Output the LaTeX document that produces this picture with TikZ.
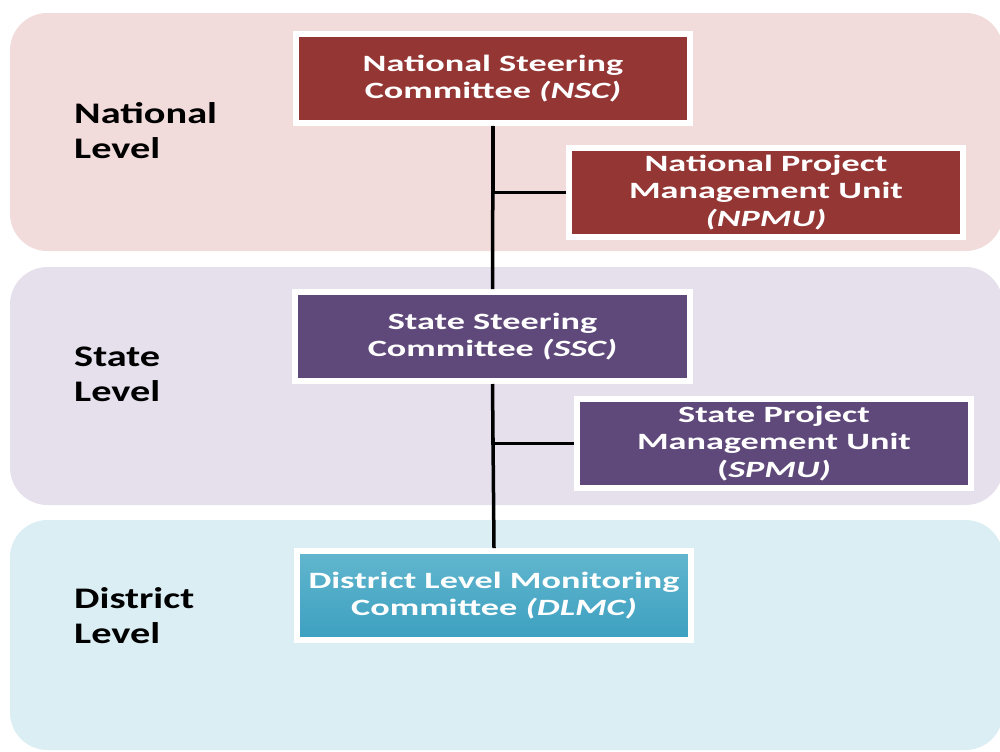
\documentclass[tikz,border=0pt]{standalone}
\usepackage{fontspec}
\setmainfont{Carlito}
\newfontfamily\lvlfont[FakeStretch=1.35]{Carlito}
\newfontfamily\boxfont[FakeStretch=1.55]{Carlito}
\definecolor{natband}{RGB}{242,220,219}
\definecolor{staband}{RGB}{229,224,236}
\definecolor{disband}{RGB}{219,238,243}
\definecolor{natred}{RGB}{148,54,52}
\definecolor{stapurple}{RGB}{95,73,122}
\definecolor{distop}{RGB}{98,182,206}
\definecolor{dismid}{RGB}{72,170,200}
\definecolor{disbot}{RGB}{60,160,192}
\begin{document}
\begin{tikzpicture}[
        x=0.02cm, y=-0.02cm,
        % Level bands
        band/.style={rounded corners=0.75cm},
        % Committee boxes
        unit/.style={draw=white, line width=0.12cm, minimum width=7.9cm, minimum height=1.78cm, align=center, text=white, font=\boxfont\bfseries\fontsize{13.3}{15.7}\selectfont},
        % Level names
        lvltext/.style={anchor=west, align=left, font=\lvlfont\bfseries\fontsize{17}{20}\selectfont},
        % Connector lines
        link/.style={line width=0.07cm}
    ]
    \useasboundingbox (0,0) rectangle (1000,751);

    % Background bands
    \fill[band, natband] (10,13) rectangle (1003,251);
    \fill[band, staband] (10,267) rectangle (1003,505);
    \fill[band, disband] (10,520) rectangle (1003,750);

    % Level names
    \node[lvltext] (natlvl) at (68,130.5) {National\\Level};
    \node[lvltext] (stalvl) at (68,374.5) {State\\Level};
    \node[lvltext] (dislvl) at (68,615.5) {District\\Level};

    % Committees and units
    \node[unit, fill=natred] (nsc) at (493,78.5) {National Steering\\Committee \textit{(NSC)}};
    \node[unit, fill=natred] (npmu) at (766,192.5) {National Project\\Management Unit\\\textit{(NPMU)}};
    \node[unit, fill=stapurple] (ssc) at (492.5,336.5) {State Steering\\Committee \textit{(SSC)}};
    \node[unit, fill=stapurple] (spmu) at (774,443.5) {State Project\\Management Unit\\(\textit{SPMU)}};
    \node[unit, top color=distop, middle color=dismid, bottom color=disbot] (dlmc) at (494,595.5) {District Level Monitoring\\Committee \textit{(DLMC)}};

    % Connections
    \draw[link] (npmu.west) -| (nsc.south);
    \draw[link] (nsc.south) -- (ssc.north);
    \draw[link] (spmu.west) -| (ssc.south);
    \draw[link] (ssc.south) -- (dlmc.north);

\end{tikzpicture}
\end{document}
